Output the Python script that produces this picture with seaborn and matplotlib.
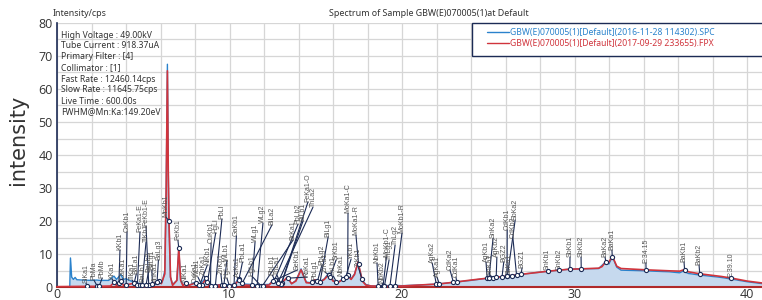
import numpy as np
import matplotlib
matplotlib.use("Agg")
import matplotlib.pyplot as plt
import matplotlib.patches as mpatches
import seaborn as sns

sns.set_theme(style="whitegrid")
plt.rcParams["font.family"] = ["DejaVu Sans"]

# spectrum 1 (.SPC, blue)
blue_kev = [0.74, 0.78, 0.85, 0.95, 1.05, 1.15, 1.5, 2.0, 2.3, 2.5, 3.0, 3.3, 3.45, 3.7, 3.85,
            4.0, 4.3, 4.5, 4.8, 5.2, 5.4, 5.6, 5.85, 5.95, 6.1, 6.25, 6.33, 6.40, 6.45, 6.49,
            6.58, 6.7, 6.95, 7.06, 7.17, 7.3, 7.48, 7.6, 8.05, 8.2, 8.64, 8.8, 9.0, 9.6, 10.0,
            10.3, 10.55, 10.8, 11.2, 11.5, 12.3, 12.6, 12.85, 13.0, 13.35, 13.6, 13.85, 14.15,
            14.45, 14.7, 14.95, 15.2, 15.5, 15.75, 16.0, 16.3, 16.6, 16.85, 17.05, 17.25, 17.45,
            17.7, 17.9, 18.2, 18.6, 19.0, 19.6, 20.0, 21.0, 22.1, 23.1, 24.0, 25.0, 26.1, 27.0,
            28.5, 29.7, 30.4, 31.4, 31.8, 32.0, 32.2, 32.45, 32.7, 34.1, 35.5, 36.1, 36.3, 36.6,
            37.3, 38.5, 39.1, 40.0, 40.9]
blue_cps = [0.0, 8.8, 3.0, 2.3, 2.9, 2.2, 2.1, 2.0, 2.1, 2.0, 2.0, 3.3, 2.3, 3.8, 2.3,
            2.5, 1.8, 1.5, 1.0, 0.6, 0.8, 0.5, 1.2, 1.8, 1.5, 5.0, 30.0, 67.5, 36.0, 20.0,
            3.0, 0.8, 2.0, 11.5, 2.0, 0.6, 1.3, 0.4, 1.6, 0.4, 2.8, 0.6, 0.5, 0.8, 0.6,
            0.9, 2.8, 0.9, 0.8, 0.6, 0.8, 2.5, 0.9, 1.0, 3.0, 1.0, 2.0, 5.5,
            1.5, 1.3, 2.2, 1.5, 2.5, 4.2, 2.0, 1.5, 2.5, 3.7, 2.5, 4.0, 7.4,
            2.0, 0.8, 0.3, 0.3, 0.4, 0.5, 0.4, 0.6, 0.9, 1.5, 2.0, 2.7, 3.3, 3.9,
            4.8, 5.4, 5.5, 5.6, 7.6, 7.0, 9.2, 6.0, 5.1, 4.9, 4.6, 4.3, 4.8, 4.1,
            3.6, 2.9, 2.4, 1.6, 1.0]

# spectrum 2 (.FPX, red)
red_kev = [0.0, 1.7, 2.3, 3.1, 3.31, 3.45, 3.59, 3.69, 3.85, 4.0, 4.5, 4.6, 4.9, 5.4, 5.9,
           6.05, 6.25, 6.33, 6.40, 6.45, 6.49, 6.58, 6.7, 6.95, 7.06, 7.17, 7.3, 7.48, 7.6,
           8.05, 8.2, 8.4, 8.64, 8.8, 9.0, 9.57, 9.8, 10.3, 10.55, 10.8, 11.3, 11.6, 12.3,
           12.6, 12.85, 13.0, 13.35, 13.6, 13.85, 14.15, 14.45, 14.7, 14.95, 15.2, 15.5,
           15.75, 16.0, 16.3, 16.6, 16.85, 17.05, 17.25, 17.45, 17.7, 17.9, 18.2, 19.0, 20.0,
           21.0, 22.1, 23.1, 24.0, 25.0, 26.1, 27.0, 28.5, 29.7, 30.4, 31.4, 31.6, 31.8, 31.95,
           32.2, 32.45, 32.7, 34.15, 35.5, 36.1, 36.38, 36.6, 37.26, 38.5, 39.1, 40.0, 40.9]
red_cps = [0.1, 0.2, 0.2, 0.3, 1.4, 0.4, 1.2, 1.9, 0.5, 0.6, 1.2, 0.5, 0.6, 0.5, 1.8,
           1.0, 4.0, 30.0, 65.5, 35.0, 20.0, 3.0, 0.5, 2.0, 11.7, 2.0, 0.4, 1.3, 0.4,
           1.3, 0.4, 0.6, 2.6, 0.5, 0.3, 0.7, 0.3, 0.6, 2.3, 0.6, 0.5, 0.3, 0.6,
           2.3, 1.0, 1.0, 3.0, 1.0, 1.8, 5.2, 1.3, 1.2, 2.2, 1.4, 2.3,
           3.8, 1.8, 1.4, 2.4, 3.5, 2.3, 3.8, 7.6, 1.8, 0.6, 0.3, 0.2, 0.3,
           0.6, 0.9, 1.5, 2.1, 2.7, 3.3, 3.9, 4.8, 5.4, 5.5, 5.7, 6.2, 7.6, 7.2,
           9.3, 6.3, 5.6, 5.2, 4.9, 4.8, 5.3, 4.6, 4.0, 3.2, 2.7, 1.8, 1.2]

# peak identification: name, line energy, label position (keV, cps)
line_names = ["SiKa1", "PbMa", "PbMb", "KKa1", "KKb1", "CaKa1", "CaKb1", "TiKa1", "BaLa1",
              "FeKa1-E", "BaLb1", "TiKb1", "FeKb1-E", "BaLb2", "BaLg1", "MnKa1", "BaLg3",
              "MnKb1", "FeKb1", "NiKa1", "CuKa1", "WLa1", "ZnKa1", "NiKb1", "CuKb1", "HgLl",
              "PbLl", "ZnKb1", "WLb1", "HgLa1", "GaKb1", "PbLa1", "AsKa1", "WLg1", "HgLb1",
              "WLg2", "BiLa2", "PbLb1", "ThLa1", "BrKa1", "PbLb2", "BiLb1", "FeKa1-O", "ThLa2",
              "SeKb1", "RbKa1", "PbLg1", "PbLg2", "ZrKa1", "BiLg1", "ThLb1", "SrKb1", "NbKa1",
              "MoKa1-C", "YKb1", "MoKa1-R", "ZrKb1", "NbKb1", "NbKb2", "MoKb1-C", "ThLg1",
              "ThLg2", "MoKb1-R", "AgKa2", "AgKa1", "CdKa2", "CdKa1", "AgKb1", "SnKa1", "SnKa2",
              "AgKb2", "BGZ2", "CdKb1", "SbKa1", "CdKb2", "SbKa2", "BGZ1", "SnKb1", "SnKb2",
              "SbKb1", "SbKb2", "BaKa2", "BaKa1", "E:34.15", "BaKb1", "BaKb2", "E:39.10"]
line_kev = [1.74, 2.34, 2.44, 3.31, 3.59, 3.69, 4.01, 4.51, 4.47,
            4.66, 4.83, 4.93, 5.32, 5.16, 5.53, 5.90, 5.80,
            6.49, 7.06, 7.48, 8.05, 8.40, 8.64, 8.26, 8.90, 8.72,
            9.18, 9.57, 9.67, 9.99, 10.26, 10.55, 10.54, 11.29, 11.82,
            11.60, 10.73, 12.61, 12.97, 11.92, 12.62, 13.02, 13.00, 12.80,
            12.50, 13.39, 14.76, 15.10, 15.77, 15.25, 16.20, 15.83, 16.60,
            16.85, 16.74, 17.48, 17.67, 18.62, 18.95, 18.90, 18.98,
            19.30, 19.60, 21.99, 22.16, 22.98, 23.17, 24.94, 25.27, 25.04,
            25.46, 25.80, 26.09, 26.36, 26.64, 26.11, 26.90, 28.49, 29.10,
            29.73, 30.39, 31.82, 32.19, 34.15, 36.38, 37.26, 39.10]
label_kev = [1.68, 2.14, 2.62, 3.19, 3.65, 3.85, 4.06, 4.35, 4.60,
             4.81, 4.98, 5.16, 5.16, 5.30, 5.50, 5.65, 5.88,
             6.32, 7.01, 7.42, 7.98, 8.17, 8.48, 8.72, 8.93, 9.20,
             9.56, 9.50, 9.85, 9.85, 10.40, 10.75, 10.45, 11.48, 11.30,
             11.94, 12.46, 12.48, 12.75, 13.68, 13.97, 14.26, 14.55, 14.84,
             13.95, 14.50, 14.96, 15.36, 15.54, 15.72, 16.02, 16.18, 16.46,
             16.87, 17.05, 17.33, 17.47, 18.55, 18.84, 19.10, 19.25,
             19.60, 20.00, 21.75, 22.03, 22.78, 23.13, 24.87, 25.10, 25.28,
             25.50, 25.90, 26.10, 26.22, 26.43, 26.56, 26.96, 28.40, 29.10,
             29.74, 30.38, 31.77, 32.17, 34.14, 36.35, 37.22, 39.07]
label_cps = [1.2, 2.1, 2.7, 2.5, 11.2, 2.5, 16.7, 2.1, 4.0,
             16.7, 1.5, 13.6, 18.5, 4.5, 5.2, 0.9, 8.2,
             21.2, 14.2, 1.5, 1.2, 3.0, 3.6, 6.7, 13.3, 16.4,
             20.6, 4.0, 8.0, 2.7, 15.5, 7.5, 3.0, 13.6, 3.3,
             19.4, 18.8, 3.6, 3.6, 14.2, 19.0, 20.0, 25.8, 24.2,
             5.2, 3.0, 2.1, 6.7, 4.5, 15.2, 3.3, 8.2, 3.3,
             22.4, 8.5, 15.8, 6.0, 7.3, 1.2, 9.1, 8.2,
             12.7, 16.4, 7.3, 3.0, 5.2, 3.0, 7.6, 3.6, 14.8,
             9.1, 7.6, 17.3, 3.6, 14.8, 20.3, 5.8, 5.2, 5.2,
             9.1, 9.1, 9.1, 11.2, 7.3, 7.6, 6.7, 3.0]

info_lines = ["High Voltage : 49.00kV", "Tube Current : 918.37uA", "Primary Filter : [4]",
              "Collimator : [1]", "Fast Rate : 12460.14cps", "Slow Rate : 11645.75cps",
              "Live Time : 600.00s", "FWHM@Mn:Ka:149.20eV"]
series_names = ["GBW(E)070005(1)[Default](2016-11-28 114302).SPC",
                "GBW(E)070005(1)[Default](2017-09-29 233655).FPX"]

BLUE = "#2a82cc"
RED = "#d0343c"
NAVY = "#1c2b55"
FILL = "#c6d9ee"
UI_FONT = "Noto Sans"

W, H = 762, 300
fig = plt.figure(figsize=(W / 100, H / 100), dpi=100)
ax = fig.add_axes([57 / W, 13 / H, 705 / W, 264 / H])

ax.fill_between(blue_kev, blue_cps, 0, color=FILL, lw=0, zorder=1)
sns.lineplot(x=blue_kev, y=blue_cps, ax=ax, color=BLUE, lw=1.0, sort=False,
             estimator=None, label=series_names[0], zorder=3)
sns.lineplot(x=red_kev, y=red_cps, ax=ax, color=RED, lw=1.2, sort=False,
             estimator=None, label=series_names[1], zorder=4)

# peak markers with leader lines and rotated labels
marker_cps = np.interp(line_kev, red_kev, red_cps)
for name, ek, mc, lk, lc in zip(line_names, line_kev, marker_cps, label_kev, label_cps):
    ax.plot([ek, lk], [mc, lc], color=NAVY, lw=0.8, zorder=5)
    ax.text(lk, lc, name, rotation=90, ha="center", va="bottom", fontsize=5,
            family="Liberation Sans", color="#555555", zorder=6)
ax.scatter(line_kev, marker_cps, s=9, facecolor="white", edgecolor=NAVY,
           linewidth=0.8, zorder=7)

ax.set_xlim(0, 705 / 17.25)
ax.set_ylim(0, 80)
xt = list(range(0, 42, 2))
yt = list(range(0, 85, 5))
ax.set_xticks(xt, [str(v) if v % 10 == 0 else "" for v in xt])
ax.set_yticks(yt, [str(v) if v % 10 == 0 else "" for v in yt])
ax.tick_params(axis="x", length=0, pad=1, labelsize=9, labelcolor="#333333")
ax.tick_params(axis="y", length=0, pad=3, labelsize=9, labelcolor="#333333")
for lab in ax.get_xticklabels() + ax.get_yticklabels():
    lab.set_family("Open Sans")
ax.grid(True, color="#d6d6d6", lw=0.9)
ax.set_xlabel("")
ax.set_ylabel("")
for side in ["top", "right"]:
    ax.spines[side].set_visible(False)
ax.spines["left"].set_color(NAVY)
ax.spines["left"].set_linewidth(1.2)
ax.spines["bottom"].set_color("#b02a2a")
ax.spines["bottom"].set_linewidth(1.5)

# legend box runs past the right edge of the picture
box = mpatches.Rectangle((415 / 705, (287 - 56) / 264), 0.5, 33 / 264,
                         transform=ax.transAxes, facecolor="white", edgecolor=NAVY,
                         lw=1.0, clip_on=False, zorder=8)
ax.add_patch(box)
leg = ax.legend(loc="upper left", bbox_to_anchor=(430 / 705, (287 - 28) / 264),
                borderaxespad=0, borderpad=0, frameon=False,
                prop={"family": UI_FONT, "size": 6.2}, handlelength=2.5,
                handletextpad=0.15, labelspacing=0.2, labelcolor="linecolor")
leg.set_zorder(9)
for lh in leg.get_lines():
    lh.set_linewidth(1.0)

for i, line in enumerate(info_lines):
    fig.text(61 / W, 1 - (35 + 11 * i) / H, line, ha="left", va="center",
             fontsize=6.2, family=UI_FONT, color="#333333")
fig.text(53 / W, 1 - 14 / H, "Intensity/cps", ha="left", va="center",
         fontsize=6.4, family=UI_FONT, color="#333333")
fig.text(429 / W, 1 - 14 / H, "Spectrum of Sample GBW(E)070005(1)at Default",
         ha="center", va="center", fontsize=6.4, family=UI_FONT, color="#333333")
fig.text(18 / W, 1 - 140 / H, "intensity", rotation=90, ha="center", va="center",
         fontsize=15, color="#333333")

fig.savefig("out.png", dpi=100)
